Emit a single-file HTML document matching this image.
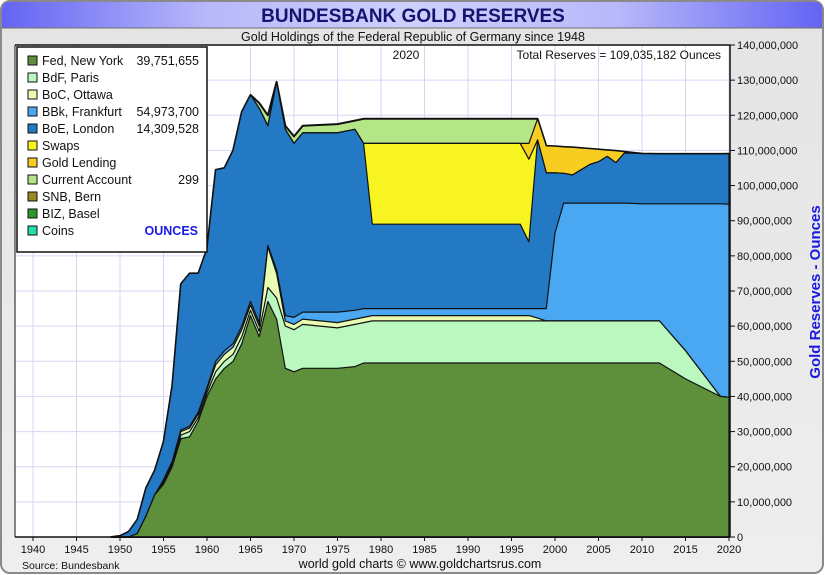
<!DOCTYPE html>
<html><head><meta charset="utf-8">
<style>
body{margin:0;background:#fff;}
#wrap{position:relative;width:825px;height:575px;overflow:hidden;font-family:"Liberation Sans",sans-serif;}
svg text{font-family:"Liberation Sans",sans-serif;}
</style></head>
<body>
<div id="wrap">
<svg id="chart" width="825" height="575" viewBox="0 0 825 575">
<defs>
<linearGradient id="tb" x1="0" x2="1" y1="0" y2="0">
<stop offset="0" stop-color="#6464f4"/><stop offset="0.25" stop-color="#b8b8fa"/><stop offset="0.5" stop-color="#cfcffc"/><stop offset="0.75" stop-color="#b8b8fa"/><stop offset="1" stop-color="#6464f4"/>
</linearGradient>
<linearGradient id="bg" x1="0" x2="0" y1="0" y2="1">
<stop offset="0" stop-color="#e4e4e4"/><stop offset="1" stop-color="#eeeeee"/>
</linearGradient>
</defs>
<rect x="1" y="1" width="822" height="572" rx="9" fill="url(#bg)" stroke="#8a8a8a" stroke-width="2"/>
<path d="M2,28 L2,10 Q2,2 10,2 L815,2 Q822,2 822,10 L822,28 Z" fill="url(#tb)"/>
<line x1="2" y1="28" x2="822" y2="28" stroke="#707070" stroke-width="1"/>
<text x="413" y="22" text-anchor="middle" font-size="19" font-weight="bold" fill="#141470">BUNDESBANK GOLD RESERVES</text>
<text x="413" y="41" text-anchor="middle" font-size="12.5" fill="#111">Gold Holdings of the Federal Republic of Germany since 1948</text>
<rect x="15" y="45" width="715" height="492" fill="#fff"/>
<g id="grid"></g>
<g id="areas"></g>
<g id="axes"></g>
<text x="406" y="59" text-anchor="middle" font-size="12" fill="#111">2020</text>
<text x="721" y="59" text-anchor="end" font-size="12" fill="#111">Total  Reserves = 109,035,182 Ounces</text>
<text transform="translate(820,292) rotate(-90)" text-anchor="middle" font-size="15" font-weight="bold" fill="#1a1ae0">Gold Reserves - Ounces</text>
<text x="22" y="569" font-size="10.5" fill="#111">Source: Bundesbank</text>
<text x="420" y="568" text-anchor="middle" font-size="12.5" fill="#111">world gold charts © www.goldchartsrus.com</text>
<g id="legend"></g>
</svg>
</div>
<script>
// ---- data (cumulative stacked tops, millions of ounces) ----
const years = [1949,1950,1951,1952,1953,1954,1955,1956,1957,1958,1959,1960,1961,1962,1963,1964,1965,1966,1967,1968,1969,1970,1971,1975,1977,1978,1979,1996,1997,1998,1999,2000,2001,2002,2003,2004,2005,2006,2007,2008,2010,2012,2015,2019,2020];
const fedTop  = [0,0,0,1,6,12,15,20,28,28.5,33,40,45,48,50,55,63,57,67,62,48,47,48,48,48.5,49.5,49.5,49.5,49.5,49.5,49.5,49.5,49.5,49.5,49.5,49.5,49.5,49.5,49.5,49.5,49.5,49.5,45,40,39.75];
const bdfTop  = [0,0,0,1,6,12,15.5,20.5,29,30,34,41,47,50,52,57,64.5,58.5,71,68,60,59,60.5,59.5,60.5,61,61.5,61.5,61.5,61.5,61.5,61.5,61.5,61.5,61.5,61.5,61.5,61.5,61.5,61.5,61.5,61.5,53,40,39.75];
const bocTop  = [0,0,0,1,6,12,16,21,30,31,35,42,49,52,54,59,66,60,82.5,75,61.5,60.5,62,61,62,62.5,63,63,63,62.3,61.5,61.5,61.5,61.5,61.5,61.5,61.5,61.5,61.5,61.5,61.5,61.5,53,40,39.75];
const bbkTop  = [0,0,0,1,6,12,16.3,21.5,30.5,31.5,35.5,42.5,50,53,55,60,67,61,83,76,63,62.5,64,64,64.5,65,65,65,65,65,65,86.5,95,95,95,95,95,95,95,95,94.8,94.8,94.8,94.8,94.72];
const boeTop  = [0,0.3,1.5,5,14,19,27,43,72,75,75,82,104.5,105,110,121,125.8,122,117,129.5,116,112,115,115,116,112,89,89,84,113,103.6,103.6,103.5,103,104.5,106,106.8,108.3,106.5,109.3,109.1,109,109,109,109.04];
const swapsTop= [0,0.3,1.5,5,14,19,27,43,72,75,75,82,104.5,105,110,121,125.8,122,117,129.5,116,112,115,115,116,112,112,112,107.5,113,103.6,103.6,103.5,103,104.5,106,106.8,108.3,106.5,109.3,109.1,109,109,109,109.04];
const lendTop = [0,0.3,1.5,5,14,19,27,43,72,75,75,82,104.5,105,110,121,125.8,122,117,129.5,116,112,115,115,116,112,112,112,112,119,111.3,111.2,111,110.9,110.7,110.5,110.3,110.1,109.9,109.6,109.1,109,109,109,109.04];
const caTop   = [0,0.3,1.5,5,14,19,27,43,72,75,75,82,104.5,105,110,121,125.8,123.5,120,129.5,117,114,117,117.5,118.5,119,119,119,119,119,111.3,111.2,111,110.9,110.7,110.5,110.3,110.1,109.9,109.6,109.1,109,109,109,109.04];
const xTicks = [1940,1945,1950,1955,1960,1965,1970,1975,1980,1985,1990,1995,2000,2005,2010,2015,2020];
const yTicks = [0,10,20,30,40,50,60,70,80,90,100,110,120,130,140];
const legendNames = ["Fed, New York","BdF, Paris","BoC, Ottawa","BBk, Frankfurt","BoE, London","Swaps","Gold Lending","Current Account","SNB, Bern","BIZ, Basel","Coins"];
const legendValues = ["39,751,655","","","54,973,700","14,309,528","","","299","","",""];

const colors = ["#5e8f3a","#bbf8c0","#e8fcb2","#4aa8f2","#2479c4","#f8f422","#f8cd22","#b4e688","#9a8824","#2c982c","#26dcaa"];
const NS="http://www.w3.org/2000/svg";
const X0=15,X1=730,Y0=45,Y1=537;
const xScale=y=>33+(y-1940)*(729-33)/80;
const yScale=v=>537-v*(492/140);
function mk(tag,attrs,parent){const e=document.createElementNS(NS,tag);for(const k in attrs)e.setAttribute(k,attrs[k]);parent.appendChild(e);return e;}
const grid=document.getElementById('grid'),areas=document.getElementById('areas'),axes=document.getElementById('axes'),legend=document.getElementById('legend');
xTicks.forEach(t=>{const l=mk('line',{x1:xScale(t),x2:xScale(t),y1:Y0,y2:Y1,stroke:'#d6d6f4','stroke-width':1},grid);

});
yTicks.forEach(t=>{const l=mk('line',{x1:X0,x2:X1,y1:yScale(t),y2:yScale(t),stroke:'#d6d6f4','stroke-width':1},grid);

});
const layers=[caTop,lendTop,swapsTop,boeTop,bbkTop,bocTop,bdfTop,fedTop];
const layerColors=[colors[7],colors[6],colors[5],colors[4],colors[3],colors[2],colors[1],colors[0]];
const layerNames=['area-current-account','area-gold-lending','area-swaps','area-boe-london','area-bbk-frankfurt','area-boc-ottawa','area-bdf-paris','area-fed-new-york'];
layers.forEach((arr,i)=>{
 let d='M'+xScale(years[0])+','+yScale(0);
 years.forEach((y,j)=>{d+=' L'+xScale(y).toFixed(1)+','+yScale(arr[j]).toFixed(1);});
 d+=' L'+xScale(years[years.length-1])+','+yScale(0)+' Z';
 const p=mk('path',{d:d,fill:layerColors[i],stroke:'#111','stroke-width':i===0?2:1.2,'stroke-linejoin':'round'},areas);
 
 
});
// axes
mk('line',{x1:X0,x2:X1,y1:Y0,y2:Y0,stroke:'#111','stroke-width':1.5},axes);
mk('line',{x1:X0,x2:X1,y1:Y1,y2:Y1,stroke:'#111','stroke-width':1.5},axes);
mk('line',{x1:X0,x2:X0,y1:Y0,y2:Y1,stroke:'#111','stroke-width':1},axes);
mk('line',{x1:X1,x2:X1,y1:Y0,y2:Y1,stroke:'#111','stroke-width':1.5},axes);
xTicks.forEach(t=>{mk('line',{x1:xScale(t),x2:xScale(t),y1:Y1,y2:Y1+4,stroke:'#111'},axes);
 const tx=mk('text',{x:xScale(t),y:553,'text-anchor':'middle','font-size':11,fill:'#111'},axes);tx.textContent=t;
 
 });
yTicks.forEach(t=>{mk('line',{x1:X1,x2:X1+5,y1:yScale(t),y2:yScale(t),stroke:'#111'},axes);
 const tx=mk('text',{x:737,y:yScale(t)+4,'font-size':11,fill:'#111'},axes);tx.textContent=(t*1000000).toLocaleString('en-US');
 
 });
// legend
const lb=mk('rect',{x:17,y:47,width:190,height:205,fill:'#fff',stroke:'#111','stroke-width':1.5},legend);


legendNames.forEach((n,i)=>{const y=65+i*17;
 const g=mk('g',{},legend);
 
 
 mk('rect',{x:28,y:y-9,width:9,height:9,fill:colors[i],stroke:'#111','stroke-width':1},g);
 const t=mk('text',{x:42,y:y,'font-size':12.5,fill:'#111'},g);t.textContent=n;
 if(legendValues[i]){const v=mk('text',{x:199,y:y,'text-anchor':'end','font-size':12.5,fill:'#111'},g);v.textContent=legendValues[i];}
});
const ou=mk('text',{x:198,y:65+10*17,'text-anchor':'end','font-size':12.5,'font-weight':'bold',fill:'#1a1ae8'},legend);ou.textContent='OUNCES';


</script>
</body></html>
